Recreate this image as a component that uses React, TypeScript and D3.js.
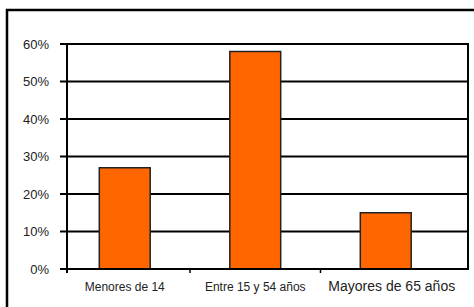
import { useEffect, useRef } from 'react';
import * as d3 from 'd3';

const categories = ['Menores de 14', 'Entre 15 y 54 años', 'Mayores de 65 años'];
const values = [27, 58, 15];
const labelSizes = [12, 12, 14];
const yTicks = [0, 10, 20, 30, 40, 50, 60];

export default function App() {
    const ref = useRef<SVGSVGElement>(null);

    useEffect(() => {
        if (!ref.current) return;
        const svg = d3.select(ref.current);
        svg.selectAll('*').remove();

        const width = 474;
        const height = 307;
        const plot = { left: 67, right: 468, top: 44, bottom: 269 };
        const font = 'Arial, "Liberation Sans", sans-serif';

        // outer frame
        svg.append('rect')
            .attr('x', 7).attr('y', 10)
            .attr('width', width + 10).attr('height', height + 10)
            .attr('fill', 'white')
            .attr('stroke', '#000')
            .attr('stroke-width', 2.5);

        const y = d3.scaleLinear().domain([0, 60]).range([plot.bottom, plot.top]);
        const x = d3.scaleBand<string>()
            .domain(categories)
            .range([59.5, 451])
            .paddingInner(0.61)
            .paddingOuter(0.305);

        // gridlines + left ticks
        svg.append('g')
            .selectAll('line')
            .data(yTicks)
            .enter()
            .append('line')
            .attr('x1', plot.left - 7)
            .attr('x2', plot.right)
            .attr('y1', d => y(d))
            .attr('y2', d => y(d))
            .attr('stroke', '#000')
            .attr('stroke-width', 2);

        svg.append('g')
            .selectAll('text')
            .data(yTicks)
            .enter()
            .append('text')
            .attr('x', 49)
            .attr('y', d => y(d))
            .attr('dy', '0.36em')
            .attr('text-anchor', 'end')
            .attr('font-family', font)
            .attr('font-size', 13)
            .attr('fill', '#222')
            .text(d => `${d}%`);

        // bars
        svg.append('g')
            .selectAll('rect')
            .data(values)
            .enter()
            .append('rect')
            .attr('x', (_, i) => x(categories[i]) as number)
            .attr('y', d => y(d))
            .attr('width', x.bandwidth())
            .attr('height', d => plot.bottom - y(d))
            .attr('fill', '#ff6600')
            .attr('stroke', '#222')
            .attr('stroke-width', 1.5);

        // axes frame
        svg.append('line')
            .attr('x1', plot.left).attr('x2', plot.left)
            .attr('y1', plot.top).attr('y2', plot.bottom + 4)
            .attr('stroke', '#000').attr('stroke-width', 2);
        svg.append('line')
            .attr('x1', plot.right).attr('x2', plot.right)
            .attr('y1', plot.top - 1).attr('y2', plot.bottom + 1)
            .attr('stroke', '#000').attr('stroke-width', 2);
        svg.append('line')
            .attr('x1', plot.left).attr('x2', plot.right)
            .attr('y1', plot.bottom).attr('y2', plot.bottom)
            .attr('stroke', '#000').attr('stroke-width', 2);

        // category separators
        const step = x.step();
        svg.append('g')
            .selectAll('line')
            .data(categories.slice(1))
            .enter()
            .append('line')
            .attr('x1', d => (x(d) as number) - step * x.paddingInner() / 2)
            .attr('x2', d => (x(d) as number) - step * x.paddingInner() / 2)
            .attr('y1', plot.bottom)
            .attr('y2', plot.bottom + 4)
            .attr('stroke', '#000')
            .attr('stroke-width', 1.5);

        // category labels
        svg.append('g')
            .selectAll('text')
            .data(categories)
            .enter()
            .append('text')
            .attr('x', (d, i) => (x(d) as number) + x.bandwidth() / 2 + (i === 2 ? 6 : 0))
            .attr('y', 291)
            .attr('text-anchor', 'middle')
            .attr('font-family', font)
            .attr('font-size', (_, i) => labelSizes[i])
            .attr('fill', '#222')
            .text(d => d);
    }, []);

    return (
        <svg
            ref={ref}
            width={474}
            height={307}
            style={{ position: 'absolute', left: 0, top: 0 }}
        />
    );
}
